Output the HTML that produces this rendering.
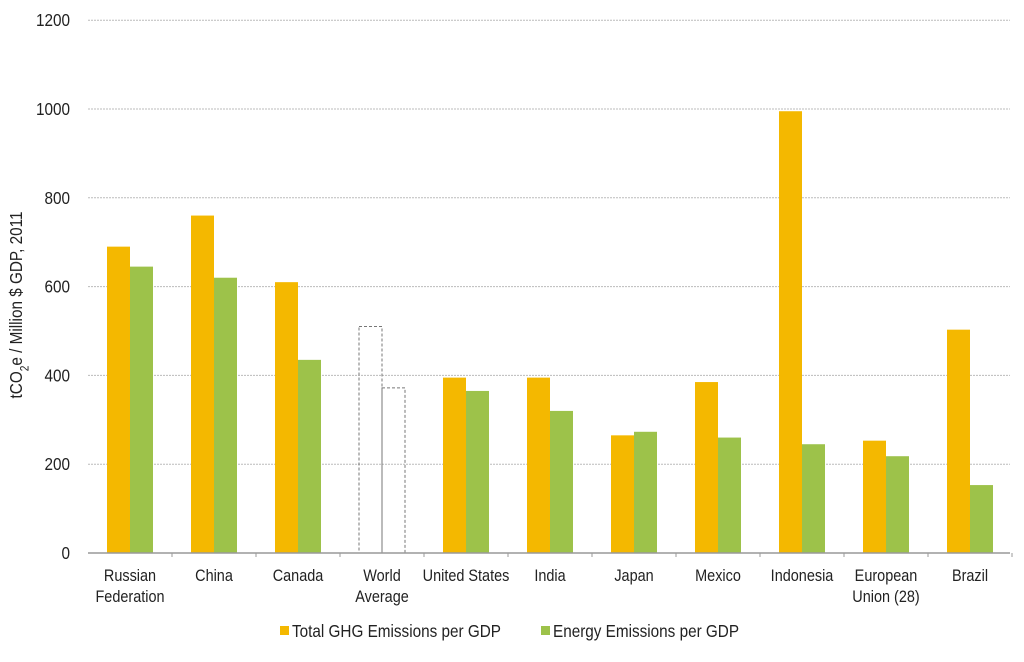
<!DOCTYPE html>
<html><head><meta charset="utf-8"><style>
body{margin:0;background:#fff;}
svg text{font-family:"Liberation Sans Narrow","Liberation Sans",sans-serif;fill:#222;}
</style></head><body>
<svg id="chart" width="1024" height="657" viewBox="0 0 1024 657" xmlns="http://www.w3.org/2000/svg"></svg>
<script>
const categories=[["Russian","Federation"],["China"],["Canada"],["World","Average"],["United States"],["India"],["Japan"],["Mexico"],["Indonesia"],["European","Union (28)"],["Brazil"]];
const ghgValues=[690,760,610,510,395,395,265,385,995,253,503];
const energyValues=[645,620,435,372,365,320,273,260,245,218,153];
const yTicks=[0,200,400,600,800,1000,1200];
const svg=document.getElementById('chart');
const NS='http://www.w3.org/2000/svg';
const x0=88,step=84,yBase=553,pxPer=88.8/200,SX=0.85;
const y=v=>yBase-v*pxPer;
const cx=i=>x0+step*i+step/2;
function mk(tag,attrs,txt){const e=document.createElementNS(NS,tag);for(const k in attrs)e.setAttribute(k,attrs[k]);if(txt!=null)e.textContent=txt;svg.appendChild(e);return e;}
function txt(x,yy,s,anchor,size){return mk('text',{x:0,y:0,'text-anchor':anchor,'font-size':size,transform:`translate(${x},${yy}) scale(${SX},1)`},s);}
yTicks.forEach(t=>{
  if(t>0){const g=mk('line',{x1:x0,x2:1010,y1:y(t),y2:y(t),stroke:'#bbb','stroke-dasharray':'2,1'});
  
  }
  const l=txt(70,y(t)+6,t,'end',18);
  
  
});
categories.forEach((c,i)=>{
  const c0=cx(i),bw=23;
  const world=i===3;
  const o=mk('rect',{x:c0-bw,y:y(ghgValues[i]),width:bw,height:ghgValues[i]*pxPer,fill:world?'none':'#F4B800',stroke:world?'#777':'none','stroke-dasharray':world?'3,2':''});
  
  
  const g=mk('rect',{x:c0,y:y(energyValues[i]),width:bw,height:energyValues[i]*pxPer,fill:world?'none':'#9DC24A',stroke:world?'#777':'none','stroke-dasharray':world?'3,2':''});
  
  
  c.forEach((ln,j)=>{const t=txt(c0,581+j*21,ln,'middle',17);
  
  });
  const tk=mk('line',{x1:x0+step*(i+1),x2:x0+step*(i+1),y1:yBase,y2:yBase+4,stroke:'#999'});
  
  
});
const ax=mk('line',{x1:x0,x2:1010,y1:yBase,y2:yBase,stroke:'#999','stroke-width':1.5});


const yt=mk('text',{x:0,y:0,'text-anchor':'middle','font-size':18,transform:'translate(22,305) rotate(-90) scale(0.85,1)'});


yt.innerHTML='tCO<tspan baseline-shift="sub" font-size="12">2</tspan>e / Million $ GDP, 2011';
const legend=[["Total GHG Emissions per GDP","#F4B800",280],["Energy Emissions per GDP","#9DC24A",541]];
legend.forEach((l,i)=>{
  const s=mk('rect',{x:l[2],y:626,width:9,height:9,fill:l[1]});
  
  
  const t=txt(l[2]+12,637,l[0],'start',18);
  
  
});
</script>
</body></html>
